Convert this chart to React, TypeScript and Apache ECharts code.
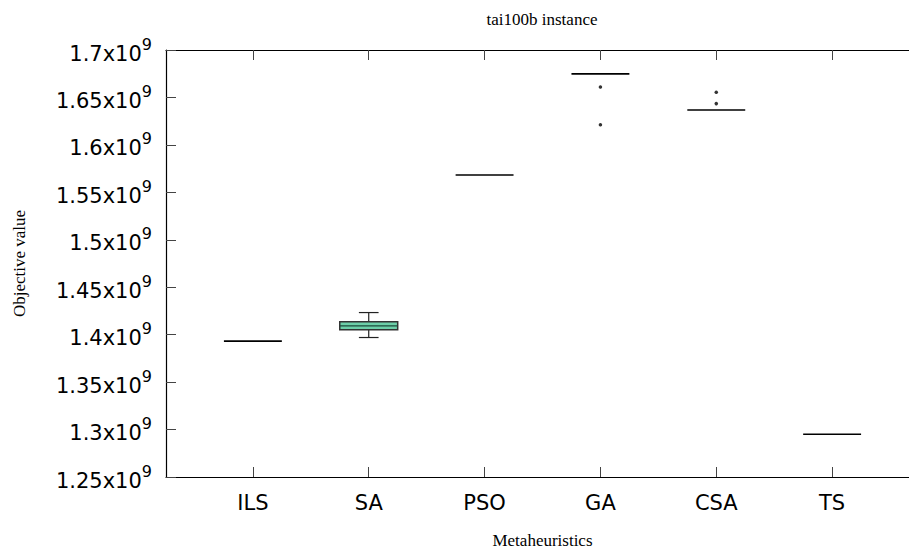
import React, { useEffect, useRef } from "react";
import * as echarts from "echarts";

const categories = ["ILS", "SA", "PSO", "GA", "CSA", "TS"];
const whiskerLow = [1.3932e9, 1.397e9, 1.5683e9, 1.6748e9, 1.6368e9, 1.295e9];
const quartile1 = [1.3932e9, 1.4051e9, 1.5683e9, 1.6748e9, 1.6368e9, 1.295e9];
const medians = [1.3932e9, 1.4093e9, 1.5683e9, 1.6748e9, 1.6368e9, 1.295e9];
const quartile3 = [1.3932e9, 1.4135e9, 1.5683e9, 1.6748e9, 1.6368e9, 1.295e9];
const whiskerHigh = [1.3932e9, 1.4233e9, 1.5683e9, 1.6748e9, 1.6368e9, 1.295e9];
const outlierCategory = ["GA", "GA", "CSA", "CSA"];
const outlierValues = [1.6611e9, 1.6213e9, 1.6554e9, 1.6435e9];
const yTickMin = 1.25e9;
const yTickMax = 1.7e9;
const yTickStep = 0.05e9;

const SERIF = "'Liberation Serif', 'Times New Roman', serif";
const SANS = "'DejaVu Sans', sans-serif";

export default function App() {
  const ref = useRef<HTMLDivElement>(null);
  useEffect(() => {
    if (!ref.current) return;
    const chart = echarts.init(ref.current, null, { renderer: "svg" });
    const positions = categories.map((_, i) => i + 1);
    const boxData = categories.map((_, i) => [
      i + 1,
      whiskerLow[i],
      quartile1[i],
      medians[i],
      quartile3[i],
      whiskerHigh[i],
    ]);
    const outData = outlierCategory.map((c, i) => [categories.indexOf(c) + 1, outlierValues[i]]);
    const tickStyle = { show: true, inside: true, length: 10, lineStyle: { color: "#444", width: 1 } };
    const lineStyle = { show: true, lineStyle: { color: "#000", width: 1.2 } };
    const yLabelFmt = (v: number) => {
      const m = +(v / 1e9).toFixed(2);
      return `{a|${m}x10}{b|9}`;
    };
    chart.setOption({
      animation: false,
      backgroundColor: "#fff",
      grid: { left: 166, top: 50, right: -10, bottom: 75, containLabel: false, outerBoundsMode: "none" },
      graphic: [
        {
          type: "text",
          x: 542,
          y: 19,
          style: {
            text: "tai100b instance",
            font: `17px ${SERIF}`,
            fill: "#000",
            textAlign: "center",
            textVerticalAlign: "middle",
          },
        },
      ],
      xAxis: [
        {
          type: "value",
          min: 0.25,
          max: 6.75,
          position: "bottom",
          axisLine: lineStyle,
          axisTick: { ...tickStyle, customValues: positions },
          splitLine: { show: false },
          axisLabel: {
            customValues: positions,
            formatter: (v: number) => categories[Math.round(v) - 1] ?? "",
            fontFamily: SANS,
            fontSize: 21,
            color: "#000",
            margin: 15,
          },
          name: "Metaheuristics",
          nameLocation: "middle",
          nameGap: 55,
          nameTextStyle: { fontFamily: SERIF, fontSize: 17, color: "#000" },
        },
        {
          type: "value",
          min: 0.25,
          max: 6.75,
          position: "top",
          axisLine: lineStyle,
          axisTick: { ...tickStyle, customValues: positions },
          splitLine: { show: false },
          axisLabel: { show: false },
        },
      ],
      yAxis: [
        {
          type: "value",
          min: yTickMin,
          max: yTickMax,
          interval: yTickStep,
          position: "left",
          axisLine: lineStyle,
          axisTick: tickStyle,
          splitLine: { show: false },
          axisLabel: {
            formatter: yLabelFmt,
            margin: 14,
            color: "#000",
            rich: {
              a: { fontFamily: SANS, fontSize: 21, color: "#000", lineHeight: 28, verticalAlign: "bottom" },
              b: { fontFamily: SANS, fontSize: 16, color: "#000", lineHeight: 28, verticalAlign: "top", padding: [0, 0, 6, 0] },
            },
          },
          name: "Objective value",
          nameLocation: "middle",
          nameGap: 138,
          nameRotate: 90,
          nameTextStyle: { fontFamily: SERIF, fontSize: 17, color: "#000" },
        },
        {
          type: "value",
          min: yTickMin,
          max: yTickMax,
          interval: yTickStep,
          position: "right",
          axisLine: lineStyle,
          axisTick: tickStyle,
          splitLine: { show: false },
          axisLabel: { show: false },
        },
      ],
      series: [
        {
          type: "custom",
          xAxisIndex: 0,
          yAxisIndex: 0,
          data: boxData,
          encode: { x: 0, y: [1, 2, 3, 4, 5] },
          renderItem: (params: any, api: any) => {
            const x = api.value(0);
            const cx = api.coord([x, api.value(3)])[0];
            const yLo = api.coord([x, api.value(1)])[1];
            const yQ1 = api.coord([x, api.value(2)])[1];
            const yMed = api.coord([x, api.value(3)])[1];
            const yQ3 = api.coord([x, api.value(4)])[1];
            const yHi = api.coord([x, api.value(5)])[1];
            const bw = api.size([0.5, 0])[0];
            const cw = api.size([0.17, 0])[0];
            const stroke = { stroke: "#222", lineWidth: 1.2 };
            const flat = Math.abs(yQ1 - yQ3) < 0.5;
            const children: any[] = [];
            if (Math.abs(yHi - yQ3) > 0.5) {
              children.push(
                { type: "line", shape: { x1: cx, y1: yQ3, x2: cx, y2: yHi }, style: stroke },
                { type: "line", shape: { x1: cx - cw / 2, y1: yHi, x2: cx + cw / 2, y2: yHi }, style: stroke }
              );
            }
            if (Math.abs(yLo - yQ1) > 0.5) {
              children.push(
                { type: "line", shape: { x1: cx, y1: yQ1, x2: cx, y2: yLo }, style: stroke },
                { type: "line", shape: { x1: cx - cw / 2, y1: yLo, x2: cx + cw / 2, y2: yLo }, style: stroke }
              );
            }
            if (!flat) {
              children.push({
                type: "rect",
                shape: { x: cx - bw / 2, y: yQ3, width: bw, height: yQ1 - yQ3 },
                style: { fill: "#6ccfa8", stroke: "#333", lineWidth: 1.5 },
              });
            }
            children.push({
              type: "line",
              shape: { x1: cx - bw / 2, y1: yMed, x2: cx + bw / 2, y2: yMed },
              style: { stroke: flat ? "#000" : "#1a4a3a", lineWidth: flat ? 1.6 : 1.2 },
            });
            return { type: "group", children };
          },
        },
        {
          type: "scatter",
          xAxisIndex: 0,
          yAxisIndex: 0,
          data: outData,
          symbol: "circle",
          symbolSize: 3.5,
          itemStyle: { color: "#000" },
        },
      ],
    });
    return () => chart.dispose();
  }, []);
  return (
    <div
      ref={ref}
      style={{ position: "fixed", left: 0, top: 0, width: 909, height: 552, background: "#fff" }}
    />
  );
}
